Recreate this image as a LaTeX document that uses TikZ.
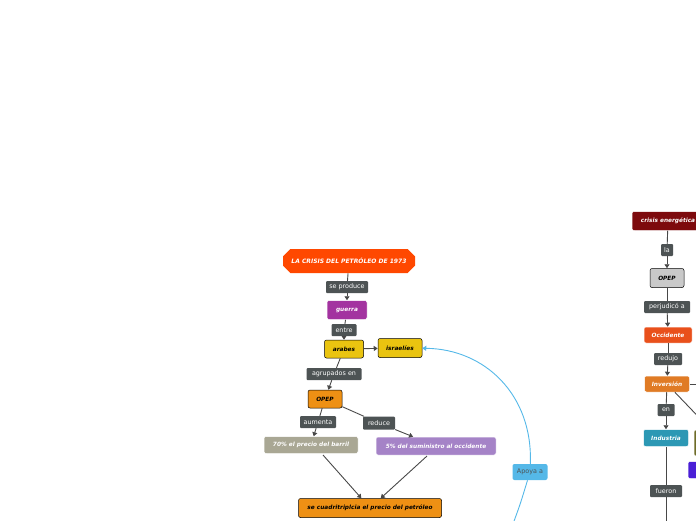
\documentclass[tikz,border=0pt]{standalone}
\usepackage{fontspec}
\setmainfont{DejaVu Sans}
\usetikzlibrary{shapes.misc,arrows.meta}

\definecolor{lblgray}{RGB}{77,83,84}
\definecolor{linegray}{RGB}{72,72,72}
\definecolor{titlered}{RGB}{255,72,0}
\definecolor{guerrapurp}{RGB}{163,51,160}
\definecolor{yellowbox}{RGB}{234,196,16}
\definecolor{orangebox}{RGB}{238,144,20}
\definecolor{khaki}{RGB}{169,167,148}
\definecolor{lavender}{RGB}{165,131,199}
\definecolor{skyblue}{RGB}{85,184,232}
\definecolor{darkred}{RGB}{125,10,13}
\definecolor{lightgray}{RGB}{201,201,201}
\definecolor{occred}{RGB}{233,80,27}
\definecolor{invorange}{RGB}{224,123,37}
\definecolor{teal}{RGB}{44,152,180}
\definecolor{olive}{RGB}{110,108,40}
\definecolor{violet}{RGB}{74,31,214}

\begin{document}
\begin{tikzpicture}[x=1pt,y=-1pt,
  box/.style={rectangle, rounded corners=2pt, text=white, inner sep=1pt,
    draw=white, line width=0.5pt,
    font=\fontsize{5.8}{6}\selectfont\bfseries\itshape},
  dark/.style={box, draw=black, text=black},
  lbl/.style={rectangle, rounded corners=1pt, fill=lblgray, text=white,
    inner sep=1pt, minimum height=12pt, font=\fontsize{6.4}{7}\selectfont},
  link/.style={draw=linegray, line width=0.9pt},
  arr/.style={link, -{Triangle[length=4pt,width=5pt]}},
  apoya/.style={draw=skyblue, line width=0.9pt},
]
  \useasboundingbox (0,0) rectangle (696,520);

  % left map
  \node[box, chamfered rectangle, chamfered rectangle xsep=5pt, sharp corners, draw=none,
    fill=titlered, minimum width=132pt, minimum height=24pt,
    font=\fontsize{6}{6}\selectfont\bfseries\itshape] (t) at (349,261) {LA CRISIS DEL PETRÓLEO DE 1973};
  \node[lbl, minimum width=42pt] (sp) at (347,287) {se produce};
  \node[box, fill=guerrapurp, minimum width=40pt, minimum height=19pt] (g) at (347,310) {guerra};
  \node[lbl, minimum width=25pt] (en1) at (344,330) {entre};
  \node[dark, fill=yellowbox, minimum width=39pt, minimum height=18pt] (a) at (344,349) {arabes};
  \node[dark, fill=yellowbox, minimum width=44pt, minimum height=19pt] (i) at (400,348) {israelíes};
  \node[lbl, minimum width=55pt] (ag) at (334,374) {agrupados en};
  \node[dark, fill=orangebox, minimum width=34pt, minimum height=18pt] (o) at (325,399) {OPEP};
  \node[lbl, minimum width=36pt] (au) at (318,422) {aumenta};
  \node[lbl, minimum width=32pt, minimum height=13pt] (re) at (379,423) {reduce};
  \node[box, fill=khaki, minimum width=94pt, minimum height=17pt] (p) at (311,445) {70\% el precio del barril};
  \node[box, fill=lavender, minimum width=120pt, minimum height=18pt] (s) at (436,446) {5\% del suministro al occidente};
  \node[dark, fill=orangebox, minimum width=143pt, minimum height=19pt] (c) at (370,508) {se cuadritriplcia el precio del petróleo};
  \node[box, fill=skyblue, text=lblgray, draw=none, minimum width=35pt, minimum height=16pt,
    font=\fontsize{6.4}{7}\selectfont] (ap) at (530,472) {Apoya a};
  \coordinate (b0) at (510,532);
  \coordinate (p0) at (323,455);
  \coordinate (s0) at (427,456);

  % right map
  \node[box, fill=darkred, minimum width=72pt, minimum height=19pt] (ce) at (668,221) {crisis energética};
  \node[lbl, minimum width=12pt] (la) at (667,250) {la};
  \node[dark, fill=lightgray, minimum width=34pt, minimum height=19pt] (o2) at (667,278) {OPEP};
  \node[lbl, minimum width=46pt] (pj) at (667,307) {perjudicó a};
  \node[box, fill=occred, minimum width=48pt, minimum height=16pt] (oc) at (668,335) {Occidente};
  \node[lbl, minimum width=28pt] (rd) at (668,359) {redujo};
  \node[box, fill=invorange, minimum width=45pt, minimum height=16pt] (inv) at (667,384) {Inversión};
  \node[lbl, minimum width=17pt] (en2) at (666,410) {en};
  \node[box, fill=teal, minimum width=45pt, minimum height=17pt] (ind) at (666,438) {Industria};
  \node[box, fill=olive, minimum width=52pt, minimum height=26pt] (ol) at (720,443) {};
  \node[box, fill=violet, minimum width=46pt, minimum height=17pt] (vb) at (711,470) {};
  \node[lbl, minimum width=32pt] (fu) at (666,491) {fueron};
  \coordinate (r1) at (712,384);
  \coordinate (r2) at (712,431);
  \coordinate (b1) at (666,532);

  \draw[link] (t) -- (sp);
  \draw[arr] (sp) -- (g);
  \draw[link] (g) -- (en1);
  \draw[arr] (en1) -- (a);
  \draw[arr] (a) -- (i);
  \draw[link] (a) -- (ag);
  \draw[arr] (ag) -- (o);
  \draw[link] (o) -- (au);
  \draw[arr] (au) -- (p);
  \draw[link] (o) -- (re);
  \draw[arr] (re) -- (s);
  \draw[arr] (p0) -- (c);
  \draw[arr] (s0) -- (c);
  \draw[apoya] (b0) .. controls (520,505) .. (ap);
  \draw[apoya, -{Triangle[length=4pt,width=5pt]}] (ap) .. controls (533,395) and (485,349) .. (i);

  \draw[link] (ce) -- (la);
  \draw[arr] (la) -- (o2);
  \draw[link] (o2) -- (pj);
  \draw[arr] (pj) -- (oc);
  \draw[link] (oc) -- (rd);
  \draw[arr] (rd) -- (inv);
  \draw[link] (inv) -- (en2);
  \draw[arr] (en2) -- (ind);
  \draw[link] (inv) -- (r1);
  \draw[link] (inv) -- (r2);
  \draw[link] (ind) -- (fu);
  \draw[link] (fu) -- (b1);
\end{tikzpicture}
\end{document}
